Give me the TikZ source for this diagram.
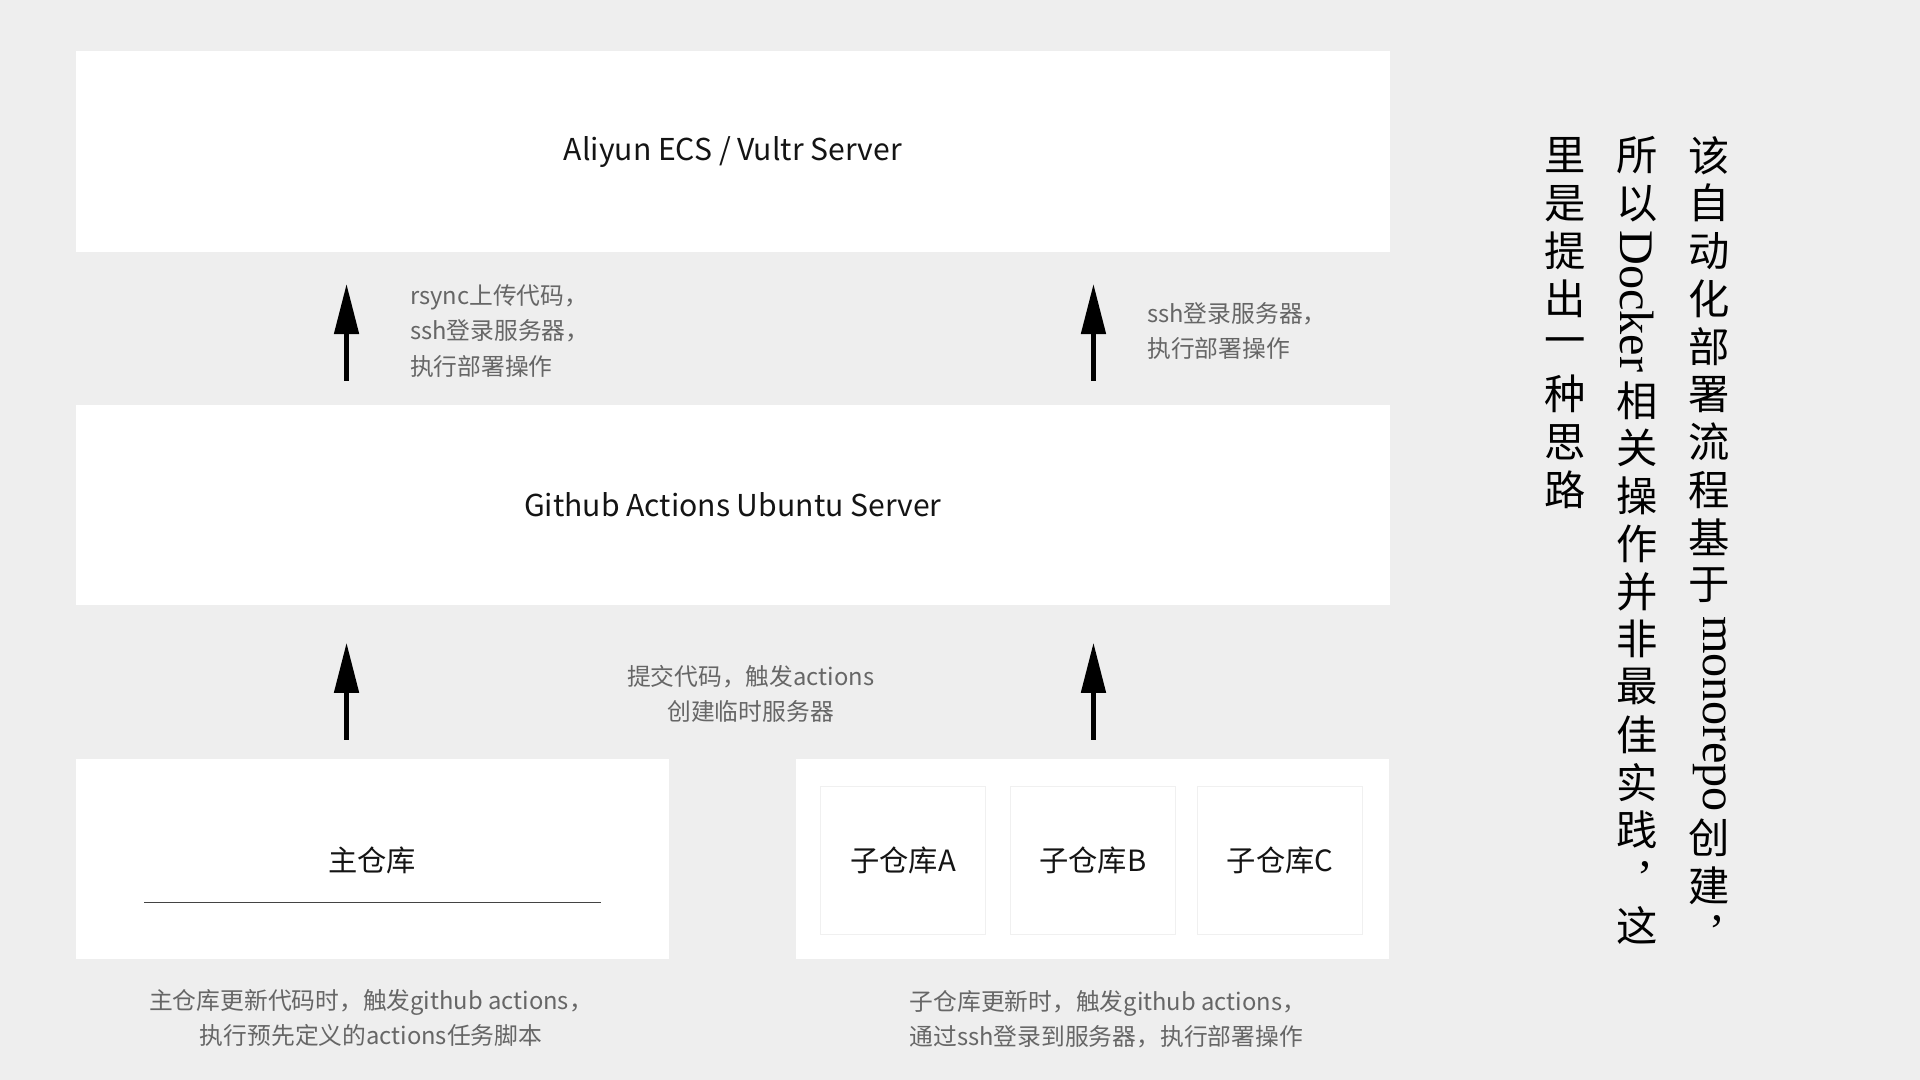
\documentclass[tikz,border=0pt]{standalone}
\usepackage{fontspec}
\setmainfont{Noto Sans CJK SC}
\newfontfamily\vcjk{Noto Sans CJK SC}
\newfontfamily\vlatin{Liberation Serif}
\usetikzlibrary{arrows.meta,positioning}

\definecolor{bggray}{HTML}{EEEEEE}
\definecolor{notegray}{HTML}{666666}
\definecolor{titleblack}{HTML}{141414}

\begin{document}
\begin{tikzpicture}[
      x=0.025cm, y=-0.025cm,
      server/.style={fill=white, minimum width=26.825cm, minimum height=4.1cm,
        text=titleblack, font=\fontsize{17.5}{20}\selectfont},
      repo/.style={fill=white, minimum width=12.1cm, minimum height=4.075cm},
      subrepo/.style={fill=white, draw=black!6, line width=0.6pt,
        minimum width=3.375cm, minimum height=3.025cm,
        text=titleblack, font=\fontsize{17}{20}\selectfont},
      repotitle/.style={text=titleblack, font=\fontsize{17}{20}\selectfont},
      note/.style={text=notegray, font=\fontsize{13.8}{20.6}\selectfont},
      flow/.style={line width=2.6pt, -{Triangle[length=29pt,width=14pt]}},
      vchar/.style={inner sep=0pt, font=\vcjk\fontsize{24}{24}\selectfont},
      vword/.style={inner sep=0pt, rotate=-90, font=\vlatin\fontsize{28}{28}\selectfont},
      vcomma/.style={inner sep=0pt, font=\vlatin\fontsize{28}{28}\selectfont}
    ]
    \fill[bggray] (0,0) rectangle (1568,882);
    \useasboundingbox (0,0) rectangle (1568,882);

    % Servers
    \node[server] (ecs) at (598.5,124) {Aliyun ECS / Vultr Server};
    \node[server, minimum height=4.075cm] (ghas) at (598.5,412.5) {Github Actions Ubuntu Server};

    % Repositories
    \node[repo] (mainrepo) at (304,701.5) {};
    \node[repotitle] (maintitle) at (304,703) {主仓库};
    \draw[titleblack!80, line width=0.7pt] (118,737) -- (491,737);
    \node[repo] (subrepos) at (892,701.5) {};
    \foreach \n/\x in {A/737.5, B/892.5, C/1045.5}
      \node[subrepo] (sub\n) at (\x,702.5) {子仓库\n};

    % Arrows
    \coordinate (ecsinL) at (283,232);
    \coordinate (ecsinR) at (893,232);
    \coordinate (ghasoutL) at (283,311);
    \coordinate (ghasoutR) at (893,311);
    \coordinate (ghasinL) at (283,525);
    \coordinate (ghasinR) at (893,525);
    \coordinate (repooutL) at (283,604);
    \coordinate (repooutR) at (893,604);
    \draw[flow] (ghasoutL) -- (ecsinL);
    \draw[flow] (ghasoutR) -- (ecsinR);
    \draw[flow] (repooutL) -- (ghasinL);
    \draw[flow] (repooutR) -- (ghasinR);

    % Notes
    \node[note, anchor=west, align=left] (rsyncnote) at (330,270)
      {rsync上传代码，\\ssh登录服务器，\\执行部署操作};
    \node[note, anchor=west, align=left] (sshnote) at (932,270.5)
      {ssh登录服务器，\\执行部署操作};
    \node[note, align=center] (pushnote) at (613,566.5)
      {提交代码，触发actions\\创建临时服务器};
    \node[note, align=center] (mainnote) at (303,831.5)
      {主仓库更新代码时，触发github actions，\\执行预先定义的actions任务脚本};
    \node[note, anchor=west, align=left] (subnote) at (738,832.5)
      {子仓库更新时，触发github actions，\\通过ssh登录到服务器，执行部署操作};

    % Vertical text, right to left
    \foreach \ch [count=\i from 0] in {该,自,动,化,部,署,流,程,基,于}
      \node[vchar] (ca\i) at (1396,127+39*\i) {\ch};
    \node[vword] (mono) at (1396,583) {monorepo};
    \node[vchar] (cb0) at (1396,684) {创};
    \node[vchar] (cb1) at (1396,723) {建};
    \node[vcomma] (ccomma) at (1403,753) {,};

    \foreach \ch [count=\i from 0] in {所,以}
      \node[vchar] (da\i) at (1337,127+39*\i) {\ch};
    \node[vword] (docker) at (1337,246) {Docker};
    \foreach \ch [count=\i from 0] in {相,关,操,作,并,非,最,佳,实,践}
      \node[vchar] (db\i) at (1337,327+39*\i) {\ch};
    \node[vcomma] (dcomma) at (1344,709) {,};
    \node[vchar] (dc0) at (1337,756) {这};

    \foreach \ch [count=\i from 0] in {里,是,提,出,一,种,思,路}
      \node[vchar] (ea\i) at (1278,127+39*\i) {\ch};
\end{tikzpicture}
\end{document}
